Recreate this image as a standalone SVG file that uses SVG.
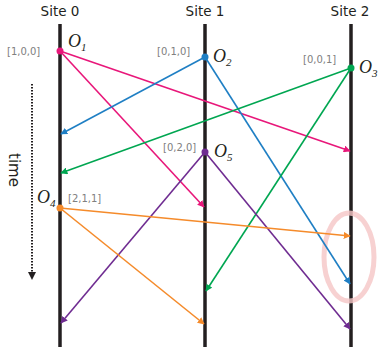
<svg xmlns="http://www.w3.org/2000/svg" width="380" height="356" viewBox="0 0 380 356">
<style>
.title{font-family:"DejaVu Sans","Liberation Sans",sans-serif;font-size:13.5px;fill:#231f20;text-anchor:middle}
.vec{font-family:"DejaVu Sans","Liberation Sans",sans-serif;font-size:10px;fill:#808080}
.ev{font-family:"Liberation Serif",serif;font-style:italic;font-size:18px;fill:#231f20}
.sub{font-size:11px}
.site{stroke:#231f20;stroke-width:3.5}
.msg{stroke-width:1.6;fill:none}
</style>
<defs>
<marker id="ap" viewBox="0 0 10 10" refX="9" refY="5" markerWidth="7" markerHeight="7" markerUnits="userSpaceOnUse" orient="auto"><path d="M0,0L10,5L0,10z" fill="#e8177a"/></marker>
<marker id="ab" viewBox="0 0 10 10" refX="9" refY="5" markerWidth="7" markerHeight="7" markerUnits="userSpaceOnUse" orient="auto"><path d="M0,0L10,5L0,10z" fill="#1f7fc4"/></marker>
<marker id="ag" viewBox="0 0 10 10" refX="9" refY="5" markerWidth="7" markerHeight="7" markerUnits="userSpaceOnUse" orient="auto"><path d="M0,0L10,5L0,10z" fill="#00a651"/></marker>
<marker id="av" viewBox="0 0 10 10" refX="9" refY="5" markerWidth="7" markerHeight="7" markerUnits="userSpaceOnUse" orient="auto"><path d="M0,0L10,5L0,10z" fill="#6f2c91"/></marker>
<marker id="ao" viewBox="0 0 10 10" refX="9" refY="5" markerWidth="7" markerHeight="7" markerUnits="userSpaceOnUse" orient="auto"><path d="M0,0L10,5L0,10z" fill="#f58b2b"/></marker>
</defs>
<g id="sites">
<g id="site0"><text class="title" x="60" y="16">Site 0</text><line class="site" x1="60" y1="24" x2="60" y2="347"/></g>
<g id="site1"><text class="title" x="205" y="16">Site 1</text><line class="site" x1="205" y1="24" x2="205" y2="347"/></g>
<g id="site2"><text class="title" x="350" y="16">Site 2</text><line class="site" x1="351" y1="24" x2="351" y2="347"/></g>
</g>
<ellipse cx="349" cy="257" rx="25" ry="44" fill="none" stroke="#f5c6c6" stroke-width="5" opacity="0.8"/>
<g id="time">
<line x1="32" y1="84" x2="32" y2="272" stroke="#231f20" stroke-width="2" stroke-dasharray="1.5,1.5"/>
<path d="M28,272L36,272L32,280z" fill="#231f20"/>
<text x="13" y="170" transform="rotate(90 13 170)" text-anchor="middle" dominant-baseline="middle" style="font-family:'DejaVu Sans','Liberation Sans',sans-serif;font-size:15px;fill:#231f20">time</text>
</g>
<g id="connectors">
<line class="msg" stroke="#e8177a" x1="60" y1="51" x2="350" y2="151" marker-end="url(#ap)"/>
<line class="msg" stroke="#e8177a" x1="60" y1="51" x2="204" y2="207" marker-end="url(#ap)"/>
<line class="msg" stroke="#1f7fc4" x1="205" y1="57" x2="61" y2="134" marker-end="url(#ab)"/>
<line class="msg" stroke="#1f7fc4" x1="205" y1="57" x2="350" y2="284" marker-end="url(#ab)"/>
<line class="msg" stroke="#00a651" x1="351" y1="68" x2="61" y2="173" marker-end="url(#ag)"/>
<line class="msg" stroke="#00a651" x1="351" y1="68" x2="206" y2="291" marker-end="url(#ag)"/>
<line class="msg" stroke="#6f2c91" x1="205" y1="152" x2="61" y2="323" marker-end="url(#av)"/>
<line class="msg" stroke="#6f2c91" x1="205" y1="152" x2="350" y2="329" marker-end="url(#av)"/>
<line class="msg" stroke="#f58b2b" x1="60" y1="208" x2="350" y2="236" marker-end="url(#ao)"/>
<line class="msg" stroke="#f58b2b" x1="60" y1="208" x2="204" y2="324" marker-end="url(#ao)"/>
</g>
<g id="O1"><circle cx="60" cy="51" r="3.5" fill="#e8177a"/><text class="vec" x="7" y="55">[1,0,0]</text><text class="ev" x="68" y="47">O<tspan class="sub" dy="4">1</tspan></text></g>
<g id="O2"><circle cx="205" cy="57" r="3.5" fill="#1f7fc4"/><text class="vec" x="157" y="55">[0,1,0]</text><text class="ev" x="213" y="62">O<tspan class="sub" dy="4">2</tspan></text></g>
<g id="O3"><circle cx="351" cy="68" r="3.5" fill="#00a651"/><text class="vec" x="303" y="63">[0,0,1]</text><text class="ev" x="359" y="73">O<tspan class="sub" dy="4">3</tspan></text></g>
<g id="O5"><circle cx="205" cy="152" r="3.5" fill="#6f2c91"/><text class="vec" x="163" y="151">[0,2,0]</text><text class="ev" x="214" y="157">O<tspan class="sub" dy="4">5</tspan></text></g>
<g id="O4"><circle cx="60" cy="208" r="3.5" fill="#f58b2b"/><text class="vec" x="68" y="202">[2,1,1]</text><text class="ev" x="37" y="203">O<tspan class="sub" dy="4">4</tspan></text></g>
</svg>
